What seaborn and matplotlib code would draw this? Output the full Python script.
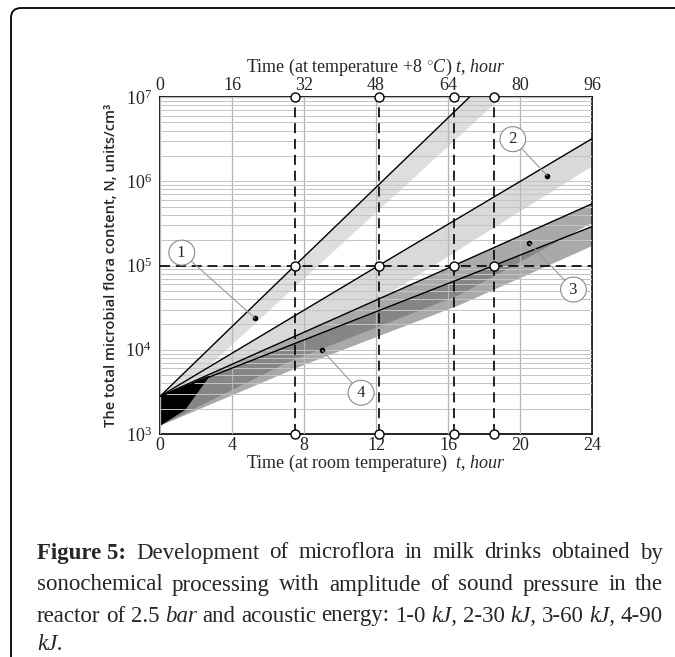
import numpy as np
import pandas as pd
import matplotlib
matplotlib.use("Agg")
import matplotlib.pyplot as plt
from matplotlib.patches import FancyBboxPatch
from matplotlib.ticker import LogLocator, FixedLocator, NullFormatter
import seaborn as sns

# ------------------------------------------------------------------
# values
# ------------------------------------------------------------------
curve_names = ["1", "2", "3", "4"]
curve_t = [[0, 7.5, 17.2], [0, 12.15, 24], [0, 16.33, 24], [0, 18.55, 24]]
curve_n = [[2.8e3, 1e5, 1e7], [2.8e3, 1e5, 3.2e6], [2.8e3, 1e5, 5.4e5], [2.8e3, 1e5, 2.9e5]]

# times where each curve reaches 1e5 (dashed guide lines)
cross_t = [7.5, 12.15, 16.33, 18.55]
cross_level = 1e5

# shaded bands (polygon outlines, t in hours / N)
band1_t = [0, 17.2, 19.0, 8.8, 2.5]
band1_n = [2.8e3, 1e7, 1e7, 1e5, 5.8e3]
band2_t = [0, 24, 24, 12.4]
band2_n = [2.8e3, 3.2e6, 1.5e6, 4.2e4]
band3_t = [0, 24, 24, 16.66, 7.16, 0]
band3_n = [2.8e3, 5.4e5, 3.2e5, 4.5e4, 7.2e3, 1.25e3]
band4_t = [0, 24, 24, 16.66, 8.0, 0]
band4_n = [2.8e3, 2.9e5, 1.7e5, 3.4e4, 6.6e3, 1.25e3]
wedge_t = [0, 2.8, 1.4, 0]
wedge_n = [2.8e3, 5.0e3, 1.93e3, 1.25e3]

# numbered callouts
dot_t = [5.27, 21.5, 20.5, 9.02]
dot_n = [2.38e4, 1.17e6, 1.86e5, 9.8e3]
label_t = [1.21, 19.6, 22.97, 11.17]
label_n = [1.42e5, 3.16e6, 5.18e4, 3.09e3]

x_ticks = [0, 4, 8, 12, 16, 20, 24]
top_ticks = [0, 16, 32, 48, 64, 80, 96]
y_ticks = [1e3, 1e4, 1e5, 1e6, 1e7]
y_ticklabels = [r"$\mathregular{10^{3}}$", r"$\mathregular{10^{4}}$", r"$\mathregular{10^{5}}$",
                r"$\mathregular{10^{6}}$", r"$\mathregular{10^{7}}$"]

caption_lines = [
    [("Figure 5:", "normal", "bold"), ("Development", "normal", "normal"), ("of", "normal", "normal"),
     ("microflora", "normal", "normal"), ("in", "normal", "normal"), ("milk", "normal", "normal"),
     ("drinks", "normal", "normal"), ("obtained", "normal", "normal"), ("by", "normal", "normal")],
    [("sonochemical", "normal", "normal"), ("processing", "normal", "normal"), ("with", "normal", "normal"),
     ("amplitude", "normal", "normal"), ("of", "normal", "normal"), ("sound", "normal", "normal"),
     ("pressure", "normal", "normal"), ("in", "normal", "normal"), ("the", "normal", "normal")],
    [("reactor", "normal", "normal"), ("of", "normal", "normal"), ("2.5", "normal", "normal"),
     ("bar", "italic", "normal"), ("and", "normal", "normal"), ("acoustic", "normal", "normal"),
     ("energy:", "normal", "normal"), ("1-0", "normal", "normal"), ("kJ,", "italic", "normal"),
     ("2-30", "normal", "normal"), ("kJ,", "italic", "normal"), ("3-60", "normal", "normal"),
     ("kJ,", "italic", "normal"), ("4-90", "normal", "normal")],
    [("kJ.", "italic", "normal")],
]
caption_y = [553, 585, 616, 645]

# ------------------------------------------------------------------
sns.set_style("white")
plt.rcParams["font.family"] = ["Liberation Serif", "DejaVu Serif"]
plt.rcParams["mathtext.fontset"] = "custom"
plt.rcParams["mathtext.rm"] = "Liberation Serif"
plt.rcParams["mathtext.it"] = "Liberation Serif:italic"

W, H = 675, 657
fig = plt.figure(figsize=(W / 100, H / 100), dpi=100)
ax = fig.add_axes([160 / W, 1 - 434 / H, (592 - 160) / W, (434 - 97) / H])
ax.set_yscale("log")
ax.set_xlim(0, 24)
ax.set_ylim(1e3, 1e7)

# bands
ax.fill(band1_t, band1_n, color="#dedede", lw=0, zorder=1)
ax.fill(band2_t, band2_n, color="#d9d9d9", lw=0, zorder=1)
ax.fill(band3_t, band3_n, color="#707070", alpha=0.6, lw=0, zorder=1)
ax.fill(band4_t, band4_n, color="#707070", alpha=0.6, lw=0, zorder=1)
ax.fill(wedge_t, wedge_n, color="black", lw=0, zorder=1.2)

# grid
ax.yaxis.set_major_locator(FixedLocator(y_ticks))
ax.yaxis.set_minor_locator(LogLocator(base=10, subs=np.arange(2, 10)))
ax.yaxis.set_minor_formatter(NullFormatter())
ax.set_yticks(y_ticks)
ax.set_yticklabels(y_ticklabels)
ax.set_xticks(x_ticks)
ax.grid(True, which="major", axis="x", color="#b5b5b5", lw=0.9, zorder=1.5)
ax.grid(True, which="both", axis="y", color="#c4c4c4", lw=0.7, zorder=1.5)
ax.set_axisbelow(False)

# curves via seaborn
rows = []
for name, ts, ns in zip(curve_names, curve_t, curve_n):
    for t, n in zip(ts, ns):
        rows.append({"curve": name, "t": t, "N": n})
df = pd.DataFrame(rows)
sns.lineplot(data=df, x="t", y="N", units="curve", estimator=None, color="black",
             lw=1.0, ax=ax, legend=False, zorder=3, sort=False)

# dashed guides
dash = dict(color="black", lw=1.2, dashes=(6, 3.5), zorder=4)
ax.plot([0, 24], [cross_level, cross_level], **dash)
for t in cross_t:
    ax.plot([t, t], [1e3, 1e7], **dash)
mk = dict(marker="o", ms=6.5, mfc="white", mec="black", mew=1.0, ls="none", zorder=6, clip_on=False)
ax.plot(cross_t, [cross_level] * len(cross_t), **mk)
ax.plot(cross_t, [1e7] * len(cross_t), **mk)
ax.plot(cross_t, [1e3] * len(cross_t), **mk)

# callouts
ax.plot(dot_t, dot_n, "o", color="black", ms=3, zorder=5)
for lab, dt, dn, lt, ln in zip(curve_names, dot_t, dot_n, label_t, label_n):
    ax.annotate(" " + lab + " ", xy=(dt, dn), xytext=(lt, ln), ha="center", va="center", fontsize=12,
                bbox=dict(boxstyle="ellipse,pad=0.05", fc="white", ec="#8a8a8a", lw=0.8),
                arrowprops=dict(arrowstyle="-", color="#9a9a9a", lw=0.8, shrinkA=0, shrinkB=0),
                zorder=7)

# axes styling
for s in ax.spines.values():
    s.set_color("black")
    s.set_linewidth(1.2)
ax.tick_params(axis="both", which="both", length=0, labelsize=13)
ax.tick_params(axis="x", pad=2)
ax.tick_params(axis="y", pad=6)
ax.set_xlabel(r"Time (at room temperature)  $\mathit{t}$, $\mathit{hour}$", fontsize=13, labelpad=-1)
ax.set_ylabel("The total microbial flora content, N, units/cm³", fontsize=10.5,
              family=["Open Sans", "DejaVu Sans"], weight=600, labelpad=5)

secax = ax.secondary_xaxis("top", functions=(lambda x: x * 4, lambda x: x / 4))
secax.set_xticks(top_ticks)
secax.tick_params(length=0, labelsize=13, pad=2)
secax.set_xlabel(r"Time (at temperature +8 $^{\circ}\mathit{C}$) $\mathit{t}$, $\mathit{hour}$",
                 fontsize=13, labelpad=4)

# outer rounded frame
frame = FancyBboxPatch((11 / W, -0.5), 2.0, 1 - 8 / H + 0.5,
                       boxstyle="round,pad=0,rounding_size=0.015",
                       transform=fig.transFigure, fill=False, ec="black", lw=1.3, clip_on=False)
fig.add_artist(frame)

# justified caption: pick the largest size that still leaves normal word spacing
renderer = fig.canvas.get_renderer()
x_left, x_right = 37, 663


def natural_widths(size):
    out = []
    for words in caption_lines:
        ws = []
        for w, st, wt in words:
            t = fig.text(0, 0, w, fontsize=size, style=st, weight=wt)
            ws.append(t.get_window_extent(renderer).width)
            t.remove()
        out.append(ws)
    return out


cap_size = 13.0
for size in np.arange(13.0, 19.0, 0.25):
    ws = natural_widths(size)
    gaps = [(x_right - x_left - sum(w)) / (len(w) - 1) for w in ws[:3]]
    if min(gaps) >= 5.0:
        cap_size = size

for i, (words, ypx) in enumerate(zip(caption_lines, caption_y)):
    arts = [fig.text(0, 1 - ypx / H, w, fontsize=cap_size, style=st, weight=wt, va="center", ha="left")
            for w, st, wt in words]
    widths = [a.get_window_extent(renderer).width for a in arts]
    if i < len(caption_lines) - 1 and len(words) > 1:
        gap = (x_right - x_left - sum(widths)) / (len(words) - 1)
    else:
        gap = 5
    x = x_left
    for a, w in zip(arts, widths):
        a.set_x(x / W)
        x += w + gap

fig.savefig("out.png", dpi=100)
